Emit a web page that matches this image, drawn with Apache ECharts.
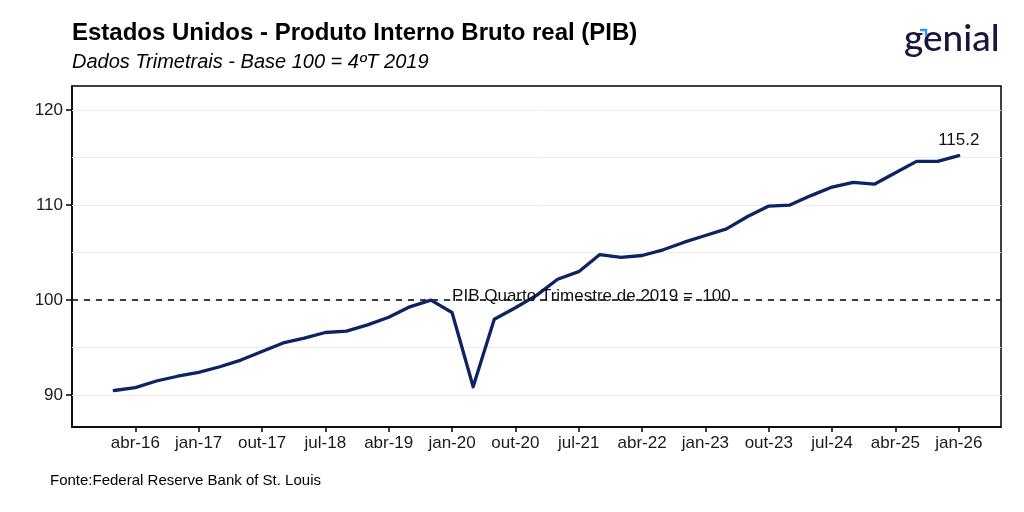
<!DOCTYPE html>
<html><head><meta charset="utf-8">
<script src="https://cdn.jsdelivr.net/npm/echarts@6/dist/echarts.min.js"></script>
<style>html,body{margin:0;padding:0;background:#fff}#c{width:1024px;height:512px}</style>
</head><body><div id="c"></div>
<script>
const quarters = [
  "jan-16","abr-16","jul-16","out-16",
  "jan-17","abr-17","jul-17","out-17",
  "jan-18","abr-18","jul-18","out-18",
  "jan-19","abr-19","jul-19","out-19",
  "jan-20","abr-20","jul-20","out-20",
  "jan-21","abr-21","jul-21","out-21",
  "jan-22","abr-22","jul-22","out-22",
  "jan-23","abr-23","jul-23","out-23",
  "jan-24","abr-24","jul-24","out-24",
  "jan-25","abr-25","jul-25","out-25",
  "jan-26"
];
const gdp = [
  90.5, 90.8, 91.5, 92.0,
  92.4, 93.0, 93.7, 94.6,
  95.5, 96.0, 96.6, 96.75,
  97.4, 98.2, 99.3, 100.0,
  98.7, 90.9, 98.0, 99.2,
  100.5, 102.2, 103.0, 104.8,
  104.5, 104.7, 105.3, 106.1,
  106.8, 107.5, 108.8, 109.9,
  110.0, 111.0, 111.9, 112.4,
  112.2, 113.4, 114.6, 114.6,
  115.2
];
const xTickLabels = ["abr-16","jan-17","out-17","jul-18","abr-19","jan-20","out-20","jul-21","abr-22","jan-23","out-23","jul-24","abr-25","jan-26"];
const yTickValues = [90, 100, 110, 120];
const gridValues = [90, 95, 100, 105, 110, 115, 120];
const baseValue = 100;
const baseLabel = "PIB Quarto Trimestre de 2019 =  100";
const baseLabelPos = [22.6, 100.4];

const xTickPos = xTickLabels.map(l => quarters.indexOf(l));
const seriesData = gdp.map((v, i) => [i, v]);
const lastIdx = gdp.length - 1;
const FONT = "'Liberation Sans', Arial, sans-serif";

const chart = echarts.init(document.getElementById('c'), null, {renderer: 'canvas'});
chart.setOption({
  animation: false,
  backgroundColor: '#fff',
  grid: {left: 72, right: 23, top: 86, bottom: 85, show: true, borderColor: '#000', borderWidth: 1.5, backgroundColor: 'transparent'},
  xAxis: {
    type: 'value', min: -2, max: 42,
    axisLine: {show: true, onZero: false, lineStyle: {color: '#000', width: 1.5}},
    axisTick: {show: true, customValues: xTickPos, length: 5, lineStyle: {color: '#000', width: 1.5}},
    axisLabel: {customValues: xTickPos, formatter: v => quarters[v] || '', color: '#1a1a1a', fontSize: 17, fontFamily: FONT, margin: 8},
    splitLine: {show: false}
  },
  yAxis: {
    type: 'value', min: 86.66, max: 122.53,
    axisLine: {show: true, onZero: false, lineStyle: {color: '#000', width: 1.5}},
    axisTick: {show: true, customValues: yTickValues, length: 6, lineStyle: {color: '#000', width: 1.5}},
    axisLabel: {customValues: yTickValues, color: '#1a1a1a', fontSize: 17, fontFamily: FONT, margin: 9},
    splitLine: {show: false}
  },
  series: [
    {
      type: 'line', data: [], silent: true,
      markLine: {
        silent: true, symbol: 'none', animation: false,
        lineStyle: {color: '#ededed', width: 1, type: 'solid'},
        label: {show: false},
        data: gridValues.map(v => ({yAxis: v}))
      }
    },
    {
      type: 'line', data: [], silent: true,
      markLine: {
        silent: true, symbol: 'none', animation: false,
        lineStyle: {color: '#000', width: 1.5, type: [6, 6]},
        label: {show: false},
        data: [{yAxis: baseValue}]
      }
    },
    {
      type: 'line', data: seriesData, showSymbol: false, symbol: 'none',
      lineStyle: {color: '#0c2462', width: 3.3, join: 'round', cap: 'round'},
      z: 5
    },
    {
      type: 'scatter', silent: true, symbolSize: 0, z: 6,
      itemStyle: {color: '#000', opacity: 1},
      data: [{value: baseLabelPos, label: {formatter: baseLabel, position: 'inside', color: '#111', opacity: 1}}],
      label: {show: true, color: '#111', fontSize: 17, fontFamily: FONT, opacity: 1}
    },
    {
      type: 'scatter', silent: true, symbolSize: 0, z: 6,
      itemStyle: {color: '#000', opacity: 1},
      data: [[lastIdx, gdp[lastIdx]]],
      label: {show: true, formatter: p => p.value[1].toFixed(1), position: 'top', distance: 7, color: '#111', opacity: 1, fontSize: 17, fontFamily: FONT}
    }
  ],
  graphic: [
    {type: 'text', left: 72, top: 21, style: {text: 'Estados Unidos - Produto Interno Bruto real (PIB)', font: 'bold 24px ' + FONT, fill: '#000'}},
    {type: 'text', left: 72, top: 52, style: {text: 'Dados Trimetrais - Base 100 = 4ºT 2019', font: 'italic 20px ' + FONT, fill: '#000'}},
    {type: 'text', left: 50, top: 473, style: {text: 'Fonte:Federal Reserve Bank of St. Louis', font: '15px ' + FONT, fill: '#000'}},
    {type: 'text', left: 904, top: 21, style: {text: 'genial', font: '500 37px Lato, Roboto, sans-serif', fill: '#17163f'}},
    {type: 'polyline', shape: {points: [[920, 30], [926, 30], [926, 36]]}, style: {stroke: '#2f9be8', lineWidth: 2.5, fill: null}}
  ]
});
</script></body></html>
